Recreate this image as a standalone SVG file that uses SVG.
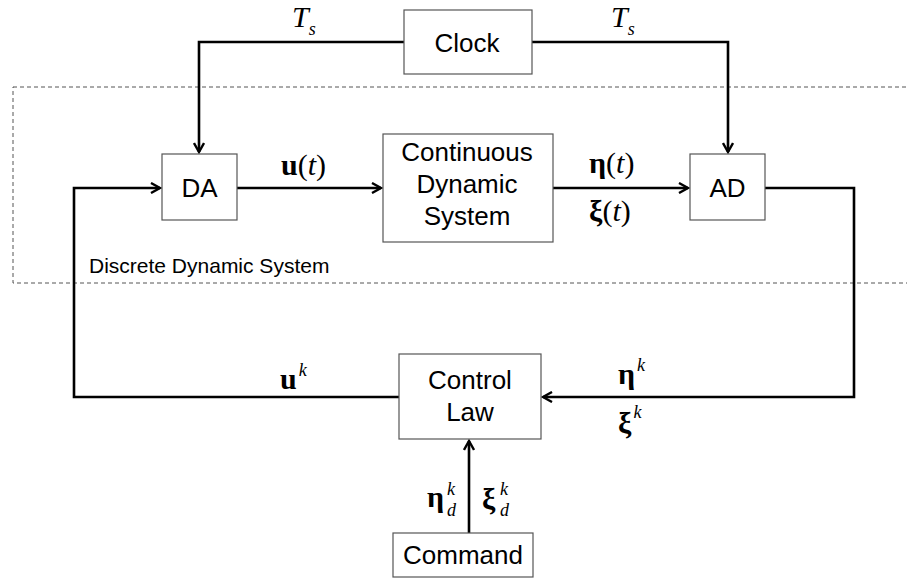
<svg xmlns="http://www.w3.org/2000/svg" width="907" height="578" viewBox="0 0 907 578">
<style>
.box{fill:#fff;stroke:#555;stroke-width:1.2}
.wire{fill:none;stroke:#000;stroke-width:2.6}
.lbl{font-family:"Liberation Sans",Arial,sans-serif;font-size:26px;fill:#000;text-anchor:middle}
.m{font-family:"Liberation Serif","Times New Roman",serif;font-size:30px;fill:#000}
.b{font-weight:bold}
.i{font-style:italic}
.sm{font-size:18px}
</style>
<defs>
<marker id="arr" viewBox="0 0 12 12" refX="10" refY="6" markerWidth="12" markerHeight="12" markerUnits="userSpaceOnUse" orient="auto">
<path d="M1,1 L10,6 L1,11" fill="none" stroke="#000" stroke-width="2.4"/>
</marker>
</defs>
<rect x="13" y="87" width="900" height="196" fill="none" stroke="#555" stroke-width="1" stroke-dasharray="4,3"/>
<text x="89" y="273" font-family="Liberation Sans,Arial,sans-serif" font-size="21" fill="#000">Discrete Dynamic System</text>
<g id="connectors">
<path class="wire" d="M404,42 H199 V152" marker-end="url(#arr)"/>
<path class="wire" d="M532,42 H728 V152" marker-end="url(#arr)"/>
<path class="wire" d="M237,188 H381" marker-end="url(#arr)"/>
<path class="wire" d="M553,188 H688" marker-end="url(#arr)"/>
<path class="wire" d="M765,188 H854 V397 H543" marker-end="url(#arr)"/>
<path class="wire" d="M399,397 H74 V188 H160" marker-end="url(#arr)"/>
<path class="wire" d="M469,533 V441" marker-end="url(#arr)"/>
</g>
<g id="clock"><rect class="box" x="404" y="10" width="128" height="64"/><text class="lbl" x="467" y="52">Clock</text></g>
<g id="da"><rect class="box" x="162" y="154" width="75" height="66"/><text class="lbl" x="199.500" y="197">DA</text></g>
<g id="cds"><rect class="box" x="383" y="134" width="170" height="108"/><text class="lbl" x="467" y="161">Continuous</text><text class="lbl" x="467" y="193">Dynamic</text><text class="lbl" x="467" y="225">System</text></g>
<g id="ad"><rect class="box" x="690" y="154" width="75" height="66"/><text class="lbl" x="727.500" y="197">AD</text></g>
<g id="law"><rect class="box" x="399" y="354" width="142" height="85"/><text class="lbl" x="470" y="389">Control</text><text class="lbl" x="470" y="421">Law</text></g>
<g id="command"><rect class="box" x="393" y="533" width="140" height="44"/><text class="lbl" x="463" y="564">Command</text></g>
<g id="labels">
<text class="m" x="292" y="27"><tspan class="i">T</tspan><tspan class="i sm" dy="8">s</tspan></text>
<text class="m" x="611" y="27"><tspan class="i">T</tspan><tspan class="i sm" dy="8">s</tspan></text>
<text class="m" x="281" y="175"><tspan class="b">u</tspan>(<tspan class="i">t</tspan>)</text>
<text class="m" x="589" y="173"><tspan class="b">η</tspan>(<tspan class="i">t</tspan>)</text>
<text class="m" x="589" y="221"><tspan class="b">ξ</tspan>(<tspan class="i">t</tspan>)</text>
<text class="m" x="280" y="389"><tspan class="b">u</tspan><tspan class="i sm" dx="2" dy="-13">k</tspan></text>
<text class="m" x="618" y="384"><tspan class="b">η</tspan><tspan class="i sm" dx="2" dy="-13">k</tspan></text>
<text class="m" x="618" y="433"><tspan class="b">ξ</tspan><tspan class="i sm" dx="2" dy="-15">k</tspan></text>
<text class="m" x="427" y="507"><tspan class="b">η</tspan></text>
<text class="m i sm" x="447" y="495">k</text><text class="m i sm" x="447" y="516">d</text>
<text class="m" x="482" y="509"><tspan class="b">ξ</tspan></text>
<text class="m i sm" x="500" y="495">k</text><text class="m i sm" x="500" y="516">d</text>
</g>
</svg>
